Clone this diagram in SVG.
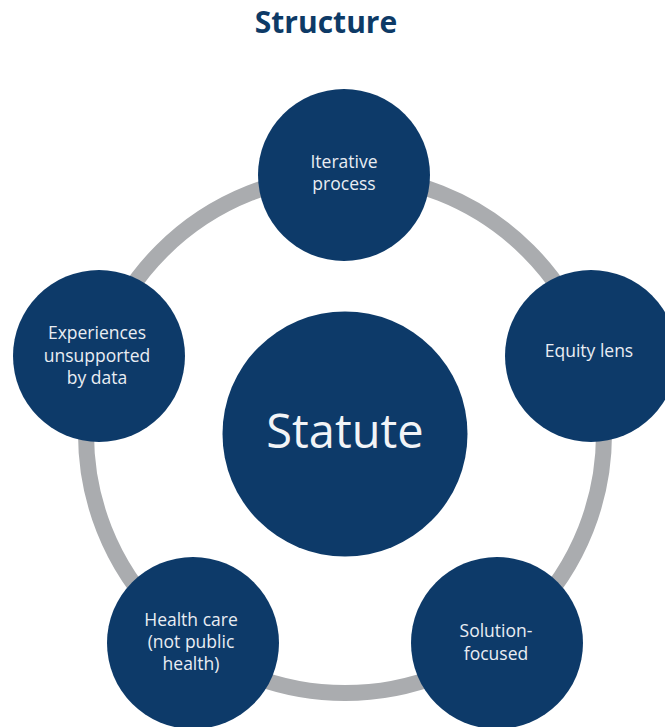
<svg xmlns="http://www.w3.org/2000/svg" width="665" height="727" viewBox="0 0 665 727">
<style>
.node{fill:#0d3a69;}
.lbl{font-family:"Open Sans","Liberation Sans",sans-serif;font-size:17.5px;fill:#e9edf3;text-anchor:middle;}
.big{font-family:"Open Sans","Liberation Sans",sans-serif;font-size:47px;fill:#f2f4f7;text-anchor:middle;}
.title{font-family:"Open Sans","Liberation Sans",sans-serif;font-size:30px;font-weight:bold;fill:#0d3a66;text-anchor:middle;}
.ring{fill:none;stroke:#aaacaf;stroke-width:16;}
</style>
<rect width="665" height="727" fill="#ffffff"/>
<text class="title" x="326" y="33">Structure</text>
<g id="connectors">
<circle class="ring" cx="345" cy="434" r="259"/>
</g>
<g id="statute">
<circle class="node" cx="345" cy="434" r="122.5"/>
<text class="big" x="345" y="448">Statute</text>
</g>
<g id="iterative">
<circle class="node" cx="344" cy="175" r="86"/>
<text class="lbl" x="344" y="168">Iterative</text>
<text class="lbl" x="344" y="190">process</text>
</g>
<g id="equity">
<circle class="node" cx="591" cy="356" r="86"/>
<text class="lbl" x="589" y="357">Equity lens</text>
</g>
<g id="solution">
<circle class="node" cx="497" cy="643" r="86"/>
<text class="lbl" x="496" y="637">Solution-</text>
<text class="lbl" x="496" y="660">focused</text>
</g>
<g id="healthcare">
<circle class="node" cx="193" cy="643" r="86"/>
<text class="lbl" x="191" y="626">Health care</text>
<text class="lbl" x="191" y="648">(not public</text>
<text class="lbl" x="191" y="670">health)</text>
</g>
<g id="experiences">
<circle class="node" cx="99" cy="356" r="86"/>
<text class="lbl" x="97" y="339">Experiences</text>
<text class="lbl" x="97" y="362">unsupported</text>
<text class="lbl" x="97" y="384">by data</text>
</g>
</svg>
